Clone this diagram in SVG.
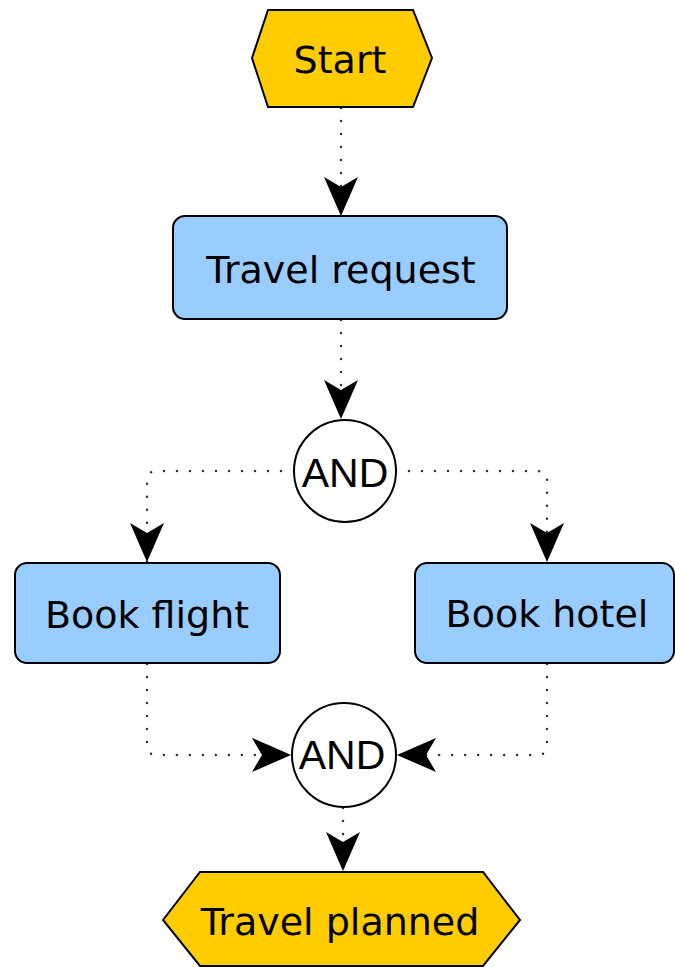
<svg xmlns="http://www.w3.org/2000/svg" width="675" height="967" viewBox="0 0 675 967">
<style>
.term{fill:#FFCC00;stroke:#000;stroke-width:2}
.task{fill:#99CCFF;stroke:#000;stroke-width:2}
.gate{fill:#fff;stroke:#000;stroke-width:2}
.lbl{font-family:"DejaVu Sans",Verdana,sans-serif;font-size:38px;fill:#000;text-anchor:middle}
.glbl{font-family:"Liberation Sans",Arial,sans-serif;font-size:41px;fill:#000;text-anchor:middle}
.edge{fill:none;stroke:#333;stroke-width:2.5;stroke-linecap:round;stroke-dasharray:0 13;marker-end:url(#arr)}
</style>
<defs>
<marker id="arr" markerUnits="userSpaceOnUse" viewBox="-42 -19 44 38" markerWidth="44" markerHeight="38" refX="0" refY="0" orient="auto">
<path d="M0,0 Q-16,-7 -39,-17 L-29,0 L-39,17 Q-16,7 0,0 Z" fill="#000"/>
</marker>
</defs>
<g id="connectors">
<path class="edge" d="M341,108 V216"/>
<path class="edge" d="M341,320 V419"/>
<path class="edge" d="M294,471 H157 Q147,471 147,481 V562"/>
<path class="edge" d="M396,471 H537 Q547,471 547,481 V562"/>
<path class="edge" d="M147,664 V745 Q147,755 157,755 H291"/>
<path class="edge" d="M547,664 V745 Q547,755 537,755 H397"/>
<path class="edge" d="M343,808 V871"/>
</g>
<g id="start">
<polygon class="term" points="252,58 268,10 413,10 432,58 413,107 268,107"/>
<text class="lbl" x="340" y="73">Start</text>
</g>
<g id="travel-request">
<rect class="task" x="173" y="216" width="334" height="103" rx="12"/>
<text class="lbl" x="341" y="283">Travel request</text>
</g>
<g id="and-split">
<circle class="gate" cx="345" cy="471" r="51"/>
<text class="glbl" x="345" y="487">AND</text>
</g>
<g id="book-flight">
<rect class="task" x="15" y="563" width="265" height="100" rx="12"/>
<text class="lbl" x="147" y="628">Book flight</text>
</g>
<g id="book-hotel">
<rect class="task" x="415" y="563" width="259" height="100" rx="12"/>
<text class="lbl" x="547" y="627">Book hotel</text>
</g>
<g id="and-join">
<circle class="gate" cx="344" cy="755" r="52"/>
<text class="glbl" x="342" y="769">AND</text>
</g>
<g id="travel-planned">
<polygon class="term" points="163,920 200,872 483,872 520,920 483,966 200,966"/>
<text class="lbl" x="340" y="935">Travel planned</text>
</g>
</svg>
